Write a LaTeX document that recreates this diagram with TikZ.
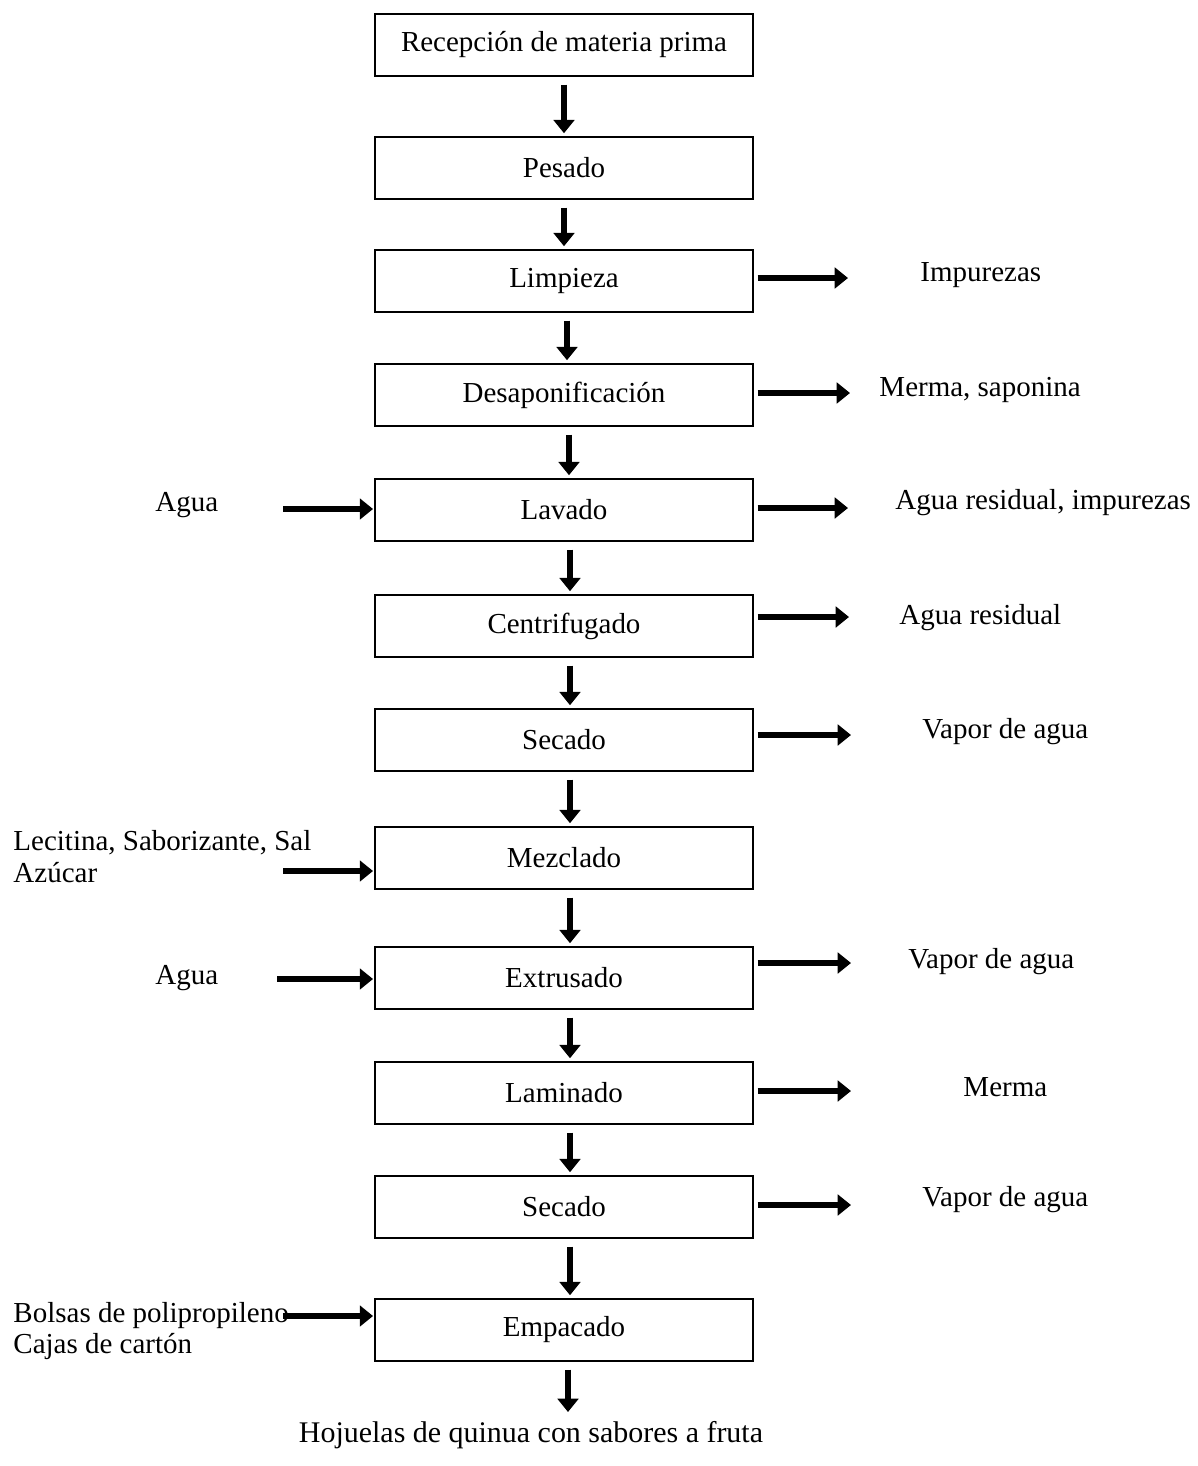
\documentclass[tikz,border=0pt]{standalone}
\usepackage{fontspec}
\setmainfont{Liberation Serif}
\usetikzlibrary{arrows.meta}

\begin{document}
\begin{tikzpicture}[
        x=0.414pt,
        y=-0.414pt,
        every node/.style={font=\fontsize{12}{13.2}\selectfont},
        proc/.style={
            draw,
            line width=0.8pt,
            minimum width=156.5pt,
            minimum height=26pt,
            inner sep=0pt
        },
        flow/.style={
            line width=2.1pt,
            -{Triangle[length=5.5pt,width=8.5pt]}
        },
        lbl/.style={anchor=west, inner sep=0pt}
    ]
        \useasboundingbox (0,0) rectangle (1197,1466);

        % Main column of process boxes, centred at x=564
        \node[proc] (rec)  at (564,45)   {Recepción de materia prima};
        \node[proc] (pes)  at (564,168)  {Pesado};
        \node[proc] (lim)  at (564,281)  {Limpieza};
        \node[proc] (des)  at (564,395)  {Desaponificación};
        \node[proc] (lav)  at (564,510)  {Lavado};
        \node[proc] (cen)  at (564,626)  {Centrifugado};
        \node[proc] (secA) at (564,740)  {Secado};
        \node[proc] (mez)  at (564,858)  {Mezclado};
        \node[proc] (ext)  at (564,978)  {Extrusado};
        \node[proc] (lam)  at (564,1093) {Laminado};
        \node[proc] (secB) at (564,1207) {Secado};
        \node[proc] (emp)  at (564,1330) {Empacado};

        \node[font=\fontsize{12.4}{14}\selectfont] (fin) at (531,1435)
            {Hojuelas de quinua con sabores a fruta};

        % Downward arrows between boxes
        \foreach \a/\b/\dx in {rec/pes/0,pes/lim/0,lim/des/3,des/lav/5,
                lav/cen/6,cen/secA/6,secA/mez/6,mez/ext/6,ext/lam/6,
                lam/secB/6,secB/emp/6}
            \draw[flow, shorten <=3pt, shorten >=1pt]
                ([xshift=\dx*0.414pt]\a.south) -- ([xshift=\dx*0.414pt]\b.north);

        \coordinate (finin) at (568,1412);
        \draw[flow, shorten <=3pt] (emp.south -| finin) -- (finin);

        % Outputs on the right
        \coordinate (limout)  at (848,278);
        \coordinate (desout)  at (850,393);
        \coordinate (lavout)  at (848,508);
        \coordinate (cenout)  at (849,617);
        \coordinate (secAout) at (851,735);
        \coordinate (extout)  at (851,963);
        \coordinate (lamout)  at (851,1091);
        \coordinate (secBout) at (851,1205);

        \foreach \a in {lim,des,lav,cen,secA,ext,lam,secB}
            \draw[flow, shorten <=1.5pt] (\a.east |- \a out) -- (\a out);

        \node[lbl] (limtxt)  at (920,275)  {Impurezas};
        \node[lbl] (destxt)  at (879,390)  {Merma, saponina};
        \node[lbl] (lavtxt)  at (895,503)  {Agua residual, impurezas};
        \node[lbl] (centxt)  at (899,618)  {Agua residual};
        \node[lbl] (secAtxt) at (922,732)  {Vapor de agua};
        \node[lbl] (exttxt)  at (908,962)  {Vapor de agua};
        \node[lbl] (lamtxt)  at (963,1087) {Merma};
        \node[lbl] (secBtxt) at (922,1200) {Vapor de agua};

        % Inputs on the left
        \node[lbl] (lavin)  at (155,505) {Agua};
        \node[lbl, align=left] (mezin) at (13,857)
            {Lecitina, Saborizante, Sal\\Azúcar};
        \node[lbl] (extin)  at (155,978) {Agua};
        \node[lbl, align=left] (empin) at (13,1331)
            {Bolsas de polipropileno\\Cajas de cartón};

        \coordinate (lavsrc) at (283,509);
        \coordinate (mezsrc) at (283,871);
        \coordinate (extsrc) at (277,979);
        \coordinate (empsrc) at (283,1316);

        \foreach \a in {lav,mez,ext,emp}
            \draw[flow, shorten >=0.4pt] (\a src) -- (\a.west |- \a src);

    \end{tikzpicture}
\end{document}
